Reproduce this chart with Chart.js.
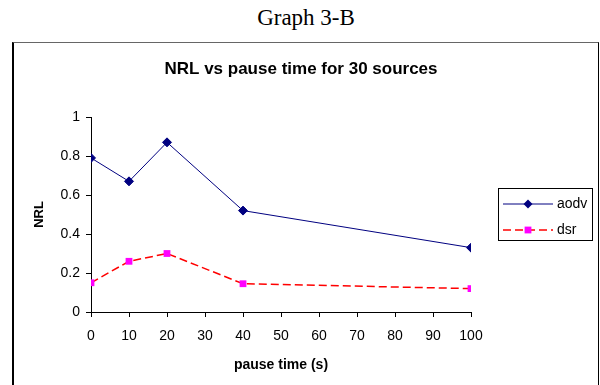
<!DOCTYPE html>
<html>
<head>
<meta charset="utf-8">
<script src="https://cdn.jsdelivr.net/npm/chart.js@4"></script>
<style>
  html, body { margin: 0; padding: 0; background: #fff; width: 600px; height: 385px; overflow: hidden; }
  #cap { position: absolute; left: 0; top: 5px; width: 612px; text-align: center; font-family: 'Liberation Serif', 'DejaVu Serif', serif; font-size: 23px; color: #000; }
  #frame { position: absolute; left: 12px; top: 42px; width: 584px; height: 400px; border: 1px solid #000; border-left-width: 2px; border-top-color: #666; }
  #c { position: absolute; left: 0; top: 0; }
</style>
</head>
<body>
<div id="cap">Graph 3-B</div>
<div id="frame"></div>
<canvas id="c" width="600" height="385"></canvas>
<script>
const pauseTimes = [0, 10, 20, 40, 100];
const aodv = [0.79, 0.67, 0.87, 0.52, 0.33];
const dsr = [0.15, 0.26, 0.30, 0.145, 0.12];
const seriesNames = ['aodv', 'dsr'];
const xTicks = [0, 10, 20, 30, 40, 50, 60, 70, 80, 90, 100];
const yTicks = [0, 0.2, 0.4, 0.6, 0.8, 1];
const chartTitle = 'NRL vs pause time for 30 sources';

const FONT = "'Liberation Sans', Arial, sans-serif";

const titlePlugin = {
  id: 'fixedTitle',
  afterDraw(chart) {
    const ctx = chart.ctx;
    ctx.save();
    ctx.fillStyle = '#000';
    ctx.font = 'bold 17px ' + FONT;
    ctx.textAlign = 'center';
    ctx.textBaseline = 'middle';
    ctx.fillText(chartTitle, 301, 69);
    ctx.restore();
  }
};

const boxLegend = {
  id: 'boxLegend',
  afterDraw(chart) {
    const ctx = chart.ctx;
    const x0 = 498, y0 = 188, w = 94, h = 52;
    ctx.save();
    ctx.fillStyle = '#fff';
    ctx.fillRect(x0, y0, w, h);
    ctx.strokeStyle = '#000';
    ctx.lineWidth = 1;
    ctx.strokeRect(x0 + 0.5, y0 + 0.5, w, h);
    const rows = [204, 230];
    chart.data.datasets.forEach((ds, i) => {
      const y = rows[i];
      ctx.beginPath();
      ctx.strokeStyle = ds.borderColor;
      ctx.lineWidth = ds.borderWidth;
      ctx.setLineDash(ds.borderDash || []);
      ctx.moveTo(503, y);
      ctx.lineTo(553, y);
      ctx.stroke();
      ctx.setLineDash([]);
      ctx.fillStyle = ds.pointBackgroundColor;
      ctx.beginPath();
      if (ds.pointStyle === 'rect') {
        const s = ds.pointRadius * Math.SQRT1_2;
        ctx.fillRect(528 - s, y - s, 2 * s, 2 * s);
      } else {
        const r = ds.pointRadius;
        ctx.moveTo(528, y - r); ctx.lineTo(528 + r, y); ctx.lineTo(528, y + r); ctx.lineTo(528 - r, y); ctx.closePath();
        ctx.fill();
      }
      ctx.fillStyle = '#000';
      ctx.font = '14px ' + FONT;
      ctx.textBaseline = 'middle';
      ctx.textAlign = 'left';
      ctx.fillText(ds.label, 557, y);
    });
    ctx.restore();
  }
};

new Chart(document.getElementById('c'), {
  type: 'line',
  data: {
    datasets: [
      {
        label: seriesNames[0],
        data: pauseTimes.map((x, i) => ({ x: x, y: aodv[i] })),
        borderColor: '#000080',
        borderWidth: 1,
        pointStyle: 'rectRot',
        pointRadius: 4.5,
        pointBackgroundColor: '#000080',
        pointBorderColor: '#000080',
        pointBorderWidth: 1,
        tension: 0
      },
      {
        label: seriesNames[1],
        data: pauseTimes.map((x, i) => ({ x: x, y: dsr[i] })),
        borderColor: '#ff0000',
        borderWidth: 1.5,
        borderDash: [8, 4],
        pointStyle: 'rect',
        pointRadius: 4.8,
        pointBackgroundColor: '#ff00ff',
        pointBorderColor: '#ff00ff',
        pointBorderWidth: 0,
        tension: 0
      }
    ]
  },
  options: {
    responsive: false,
    animation: false,
    events: [],
    layout: { padding: { left: 32, right: 129, top: 117, bottom: 11 } },
    plugins: {
      legend: { display: false },
      tooltip: { enabled: false },
      title: { display: false }
    },
    scales: {
      x: {
        type: 'linear',
        min: 0, max: 100,
        afterBuildTicks(s) { s.ticks = xTicks.map(v => ({ value: v })); },
        afterFit(s) { s.height = 62; },
        ticks: { color: '#000', font: { family: FONT, size: 14 }, padding: 11, maxRotation: 0, autoSkip: false, callback: v => String(v) },
        grid: { display: true, drawOnChartArea: false, drawTicks: true, tickLength: 5, color: '#000' },
        border: { display: true, color: '#000', width: 1 },
        title: { display: true, text: 'pause time (s)', color: '#000', font: { family: FONT, size: 14, weight: 'bold', lineHeight: 1.2 }, padding: { top: 4, bottom: 0 } }
      },
      y: {
        min: 0, max: 1,
        afterBuildTicks(s) { s.ticks = yTicks.map(v => ({ value: v })); },
        afterFit(s) { s.width = 59; },
        ticks: { color: '#000', font: { family: FONT, size: 14 }, padding: 6, callback: v => String(v) },
        grid: { display: true, drawOnChartArea: false, drawTicks: true, tickLength: 5, color: '#000' },
        border: { display: true, color: '#000', width: 1 },
        title: { display: true, text: 'NRL', color: '#000', font: { family: FONT, size: 13, weight: 'bold', lineHeight: 1.2 }, padding: { top: 0, bottom: 0 } }
      }
    }
  },
  plugins: [titlePlugin, boxLegend]
});
</script>
</body>
</html>
